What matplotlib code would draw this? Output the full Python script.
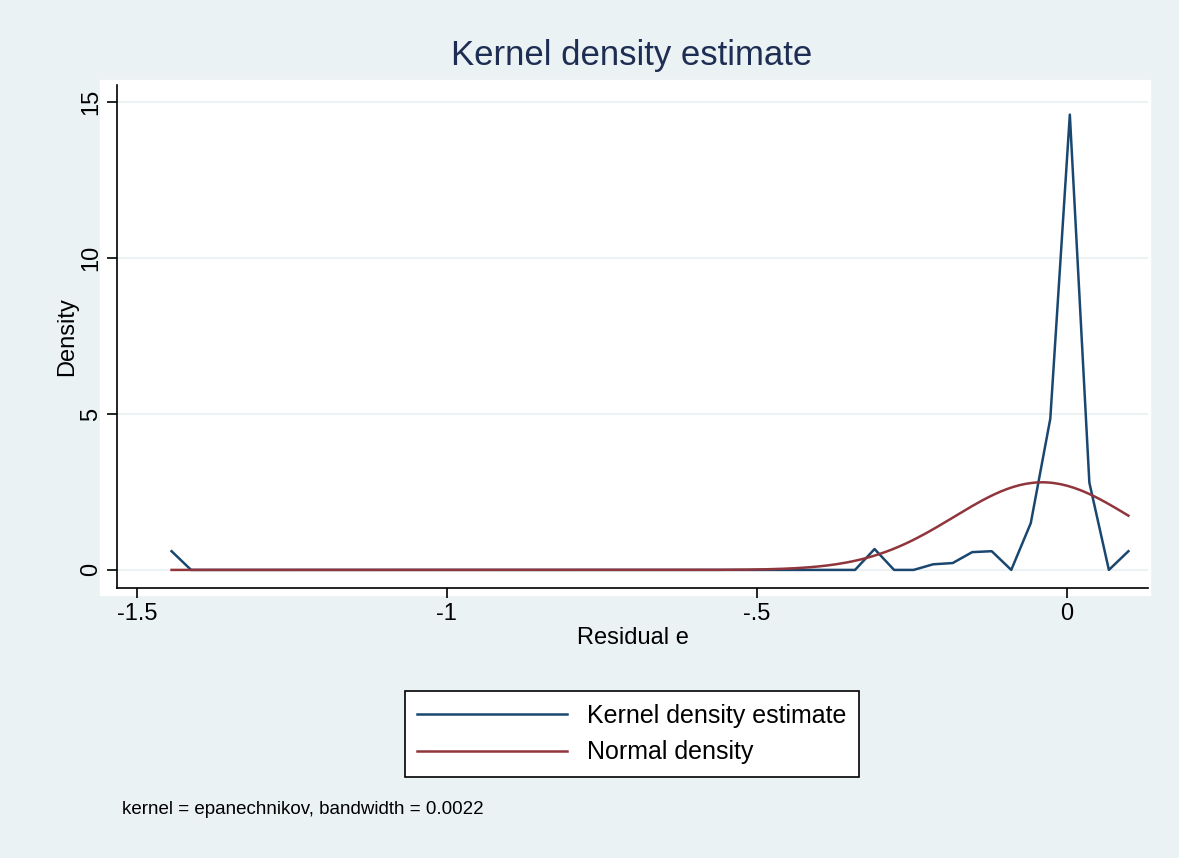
import matplotlib.pyplot as plt
import numpy as np

plt.rcParams["font.family"] = ["Liberation Sans", "DejaVu Sans"]

# kernel density estimate evaluated on 50 grid points
grid_start, grid_step = -1.444, 0.03149
kde_values = [0.6] + [0.0] * 35 + [0.67, 0.0, 0.0, 0.18, 0.22, 0.57, 0.6, 0.0,
                                    1.5, 4.85, 14.6, 2.8, 0.0, 0.6]
norm_mean, norm_sd = -0.04, 0.142

x = grid_start + grid_step * np.arange(len(kde_values))
xn = np.linspace(x[0], x[-1], 300)
normal = np.exp(-0.5 * ((xn - norm_mean) / norm_sd) ** 2) / (norm_sd * np.sqrt(2 * np.pi))

W, H = 1179, 858
bg = "#EAF2F3"
fig = plt.figure(figsize=(W / 100, H / 100), dpi=100, facecolor=bg)
# white plot region
fig.add_artist(plt.Rectangle((100 / W, 1 - 595 / H), 1050 / W, 515 / H,
                             transform=fig.transFigure, color="white", zorder=0))
ax = fig.add_axes([117 / W, 1 - 588 / H, (1148 - 117) / W, (588 - 85) / H])
ax.set_facecolor("white")
ax.plot(x, kde_values, color="#1A476F", lw=1.8, label="Kernel density estimate")
ax.plot(xn, normal, color="#90353B", lw=1.8, label="Normal density")
ax.set_xlim(-1.532, 0.1306)
ax.set_ylim(-0.58, 15.55)
ax.set_xticks([-1.5, -1, -0.5, 0])
ax.set_xticklabels(["-1.5", "-1", "-.5", "0"])
ax.set_yticks([0, 5, 10, 15])
ax.set_yticklabels(["0", "5", "10", "15"], rotation=90, va="center")
ax.grid(axis="y", color=bg, lw=1.5)
ax.set_axisbelow(True)
for s in ["top", "right"]:
    ax.spines[s].set_visible(False)
for s in ["left", "bottom"]:
    ax.spines[s].set_linewidth(1.2)
ax.tick_params(labelsize=17, length=7, width=1.2)
ax.set_xlabel("Residual e", fontsize=17, labelpad=2)
ax.set_ylabel("Density", fontsize=17, labelpad=2)
fig.text(632 / W, 1 - 55 / H, "Kernel density estimate", fontsize=25,
         color="#1E2D53", ha="center", va="center")
leg = fig.legend(loc="center", bbox_to_anchor=(632 / W, 1 - 734 / H), fontsize=18,
                 frameon=True, fancybox=False, edgecolor="black", framealpha=1,
                 facecolor="white", handlelength=6, borderpad=0.5, labelspacing=0.5)
leg.get_frame().set_linewidth(1.2)
fig.text(122 / W, 1 - 810 / H, "kernel = epanechnikov, bandwidth = 0.0022",
         fontsize=13.5, va="center")
fig.savefig("out.png", dpi=100, facecolor=bg)
